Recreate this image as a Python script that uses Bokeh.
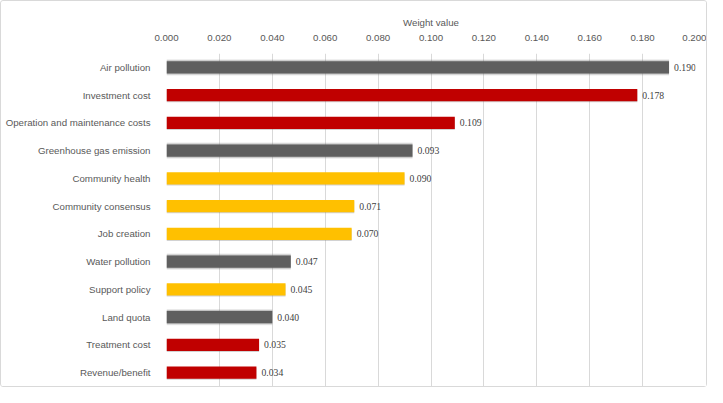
from bokeh.plotting import figure
from bokeh.models import ColumnDataSource, FactorRange, FixedTicker, NumeralTickFormatter, LabelSet
from bokeh.transform import dodge
from bokeh.embed import file_html
from bokeh.resources import INLINE

criteria = ["Air pollution", "Investment cost", "Operation and maintenance costs",
            "Greenhouse gas emission", "Community health", "Community consensus",
            "Job creation", "Water pollution", "Support policy", "Land quota",
            "Treatment cost", "Revenue/benefit"]
weights = [0.190, 0.178, 0.109, 0.093, 0.090, 0.071, 0.070, 0.047, 0.045, 0.040, 0.035, 0.034]
groups = ["env", "econ", "econ", "env", "soc", "soc", "soc", "env", "soc", "env", "econ", "econ"]
ticks = [0.0, 0.02, 0.04, 0.06, 0.08, 0.10, 0.12, 0.14, 0.16, 0.18, 0.20]

palette = {"env": "#5f5f5f", "econ": "#c00000", "soc": "#ffc000"}
FONT = "Liberation Sans"

colors = [palette[g] for g in groups]
labels = ["%.3f" % w for w in weights]
src = ColumnDataSource(dict(y=criteria, x=weights, color=colors, label=labels))
env_src = ColumnDataSource(dict(
    y=[c for c, g in zip(criteria, groups) if g == "env"],
    x=[w for w, g in zip(weights, groups) if g == "env"]))
oth_src = ColumnDataSource(dict(
    y=[c for c, g in zip(criteria, groups) if g != "env"],
    x=[w for w, g in zip(weights, groups) if g != "env"],
    color=[palette[g] for g in groups if g != "env"]))

p = figure(width=707, height=387, output_backend="svg", toolbar_location=None,
           y_range=FactorRange(*criteria[::-1]), x_range=(0, 0.2),
           x_axis_location="above",
           min_border_left=165, min_border_right=13, min_border_top=52, min_border_bottom=2)
p.styles = {"border": "1px solid #d9d9d9", "border-radius": "3px"}
p.outline_line_color = None
p.background_fill_color = "white"

# shadows for coloured bars
p.hbar(y=dodge("y", -0.04, range=p.y_range), right="x", left=0, height=0.44, source=oth_src,
       fill_color="#7f7f7f", fill_alpha=0.35, line_color=None)
# blur halo for grey bars
for h, a in [(0.58, 0.15), (0.52, 0.3)]:
    p.hbar(y="y", right="x", left=0, height=h, source=env_src,
           fill_color="#6a6a6a", fill_alpha=a, line_color=None)
p.hbar(y="y", right="x", left=0, height=0.44, source=src,
       fill_color="color", line_color=None)

lbl = LabelSet(x="x", y="y", text="label", source=src, x_offset=5, y_offset=0,
               text_baseline="middle", text_font_size="9.7px", text_color="#404040",
               text_font=FONT)
p.add_layout(lbl)

xa = p.xaxis[0]
xa.ticker = FixedTicker(ticks=ticks)
xa.formatter = NumeralTickFormatter(format="0.000")
xa.axis_label = "Weight value"
xa.axis_label_text_font = FONT
xa.axis_label_text_font_style = "normal"
xa.axis_label_text_font_size = "9.7px"
xa.axis_label_text_color = "#595959"
xa.axis_label_standoff = 4
xa.major_label_text_font = FONT
xa.major_label_text_font_size = "9.7px"
xa.major_label_text_color = "#595959"
xa.major_label_standoff = 7
xa.axis_line_color = None
xa.major_tick_line_color = None
xa.minor_tick_line_color = None

ya = p.yaxis[0]
ya.major_label_text_font = FONT
ya.major_label_text_font_size = "9.7px"
ya.major_label_text_color = "#595959"
ya.major_label_standoff = 10
ya.axis_line_color = None
ya.major_tick_line_color = None
ya.minor_tick_line_color = None

p.xgrid.ticker = FixedTicker(ticks=ticks)
p.xgrid.grid_line_color = "#d9d9d9"
p.ygrid.grid_line_color = None

open("out.html", "w").write(file_html(p, INLINE))
